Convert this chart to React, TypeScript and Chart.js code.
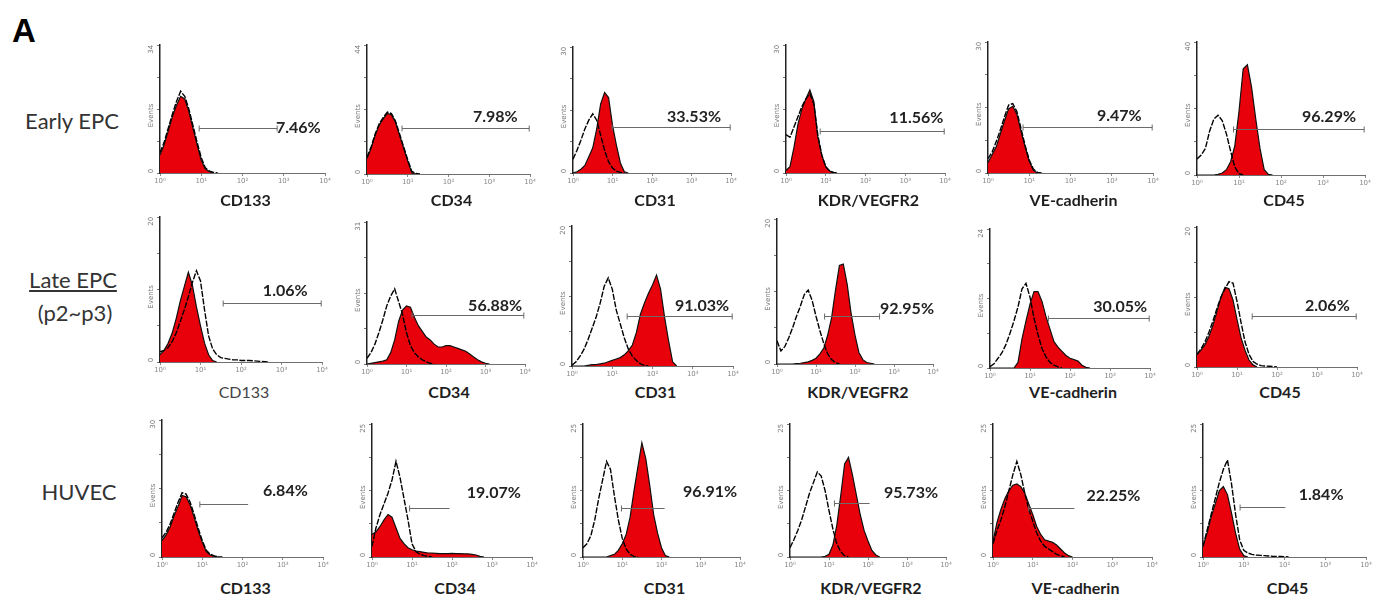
import React, { useEffect, useRef } from "react";
import { Chart, registerables } from "chart.js";

Chart.register(...registerables);

// ---------- DATA ----------
// fluorescence bins (log10 of intensity), 10^0 .. 10^3.2
const BIN_LOG = [0, 0.1, 0.2, 0.3, 0.4, 0.5, 0.6, 0.7, 0.8, 0.9, 1.0, 1.1, 1.2, 1.3, 1.4, 1.5, 1.6, 1.7, 1.8, 1.9, 2.0, 2.1, 2.2, 2.3, 2.4, 2.5, 2.6, 2.7, 2.8, 2.9, 3.0, 3.1, 3.2];

const ROWS = ["Early EPC", "Late EPC", "HUVEC"];
const MARKERS = ["CD133", "CD34", "CD31", "KDR/VEGFR2", "VE-cadherin", "CD45"];
const X_TICK_LABELS = ["10⁰", "10¹", "10²", "10³", "10⁴"];

// top of each "Events" axis
const Y_TOP = [
  [34, 44, 30, 30, 30, 40],
  [20, 31, 20, 20, 24, 20],
  [30, 25, 25, 25, 25, 25],
];

const PERCENT = [
  ["7.46%", "7.98%", "33.53%", "11.56%", "9.47%", "96.29%"],
  ["1.06%", "56.88%", "91.03%", "92.95%", "30.05%", "2.06%"],
  ["6.84%", "19.07%", "96.91%", "95.73%", "22.25%", "1.84%"],
];

// gate marker (log10 from/to, level as % of axis top)
const GATE_FROM = [
  [0.95, 0.86, 0.99, 0.86, 0.85, 0.87],
  [1.56, 1.14, 1.37, 1.22, 1.46, 1.38],
  [0.94, 0.94, 0.98, 1.14, 0.9, 0.91],
];
const GATE_TO = [
  [2.84, 3.98, 3.98, 3.98, 3.98, 3.98],
  [3.98, 3.97, 3.98, 2.63, 3.98, 3.98],
  [2.14, 1.94, 2.08, 2.04, 2.05, 2.02],
];
const GATE_LEVEL = [
  [35, 36, 36.5, 33, 35.5, 35],
  [41, 34.5, 36, 33, 36, 36.5],
  [38.5, 37, 37, 40.5, 37, 38],
];

// histogram heights (% of axis top) per bin — red = stained, outline = control
const early_CD133_stain = [14, 22, 33, 44, 53, 60, 58, 48, 35, 22, 10, 3, 1, 0];
const early_CD133_ctrl = [16, 24, 35, 46, 56, 64, 60, 50, 37, 24, 12, 4, 1.5, 0.5, 0];
const early_CD34_stain = [12, 20, 30, 38, 43, 47, 46, 40, 30, 20, 10, 1, 0];
const early_CD34_ctrl = [13, 21, 31, 39, 44, 48, 47, 41, 31, 21, 11, 2, 0.5, 0];
const early_CD31_stain = [0, 1, 3, 6, 13, 20, 35, 55, 64, 60, 38, 22, 8, 1, 0];
const early_CD31_ctrl = [11, 18, 26, 35, 42, 47, 42, 30, 18, 9, 4, 1.5, 0.5, 0];
const early_KDR_stain = [2, 5, 20, 38, 50, 58, 65, 56, 28, 14, 5, 1.5, 0];
const early_KDR_ctrl = [30, 28, 36, 44, 52, 58, 62, 54, 30, 14, 5, 1.5, 0.5, 0];
const early_VE_stain = [8, 14, 20, 30, 40, 49, 51, 45, 32, 20, 9, 2, 0];
const early_VE_ctrl = [11, 16, 24, 33, 43, 52, 53, 47, 34, 21, 10, 3, 0.5, 0];
const early_CD45_stain = [0, 0, 0, 0, 0, 0.5, 1.5, 4, 10, 22, 48, 80, 83, 66, 42, 20, 4, 0.5, 0];
const early_CD45_ctrl = [12, 15, 20, 33, 42, 45, 41, 31, 18, 6, 1, 0];

const late_CD133_stain = [5, 8, 13, 20, 30, 42, 52, 62, 53, 38, 25, 13, 5, 1, 0];
const late_CD133_ctrl = [7, 8, 10, 14, 20, 28, 36, 45, 55, 63, 56, 36, 18, 9, 5, 3, 2.5, 2, 1.5, 1.5, 1, 1, 1, 0.8, 0.6, 0.4, 0.2, 0];
const late_CD34_stain = [0, 0.5, 1, 1.5, 2, 3, 8, 17, 30, 38, 41, 40, 33, 27, 23, 19, 17, 14, 12, 12, 13, 13, 12, 11, 10, 9, 7, 5, 3, 1.5, 0.5, 0];
const late_CD34_ctrl = [4, 8, 14, 22, 31, 41, 48, 53, 44, 35, 22, 13, 8, 5, 3, 1.5, 0.5, 0];
const late_CD31_stain = [0, 0, 0, 0, 0.5, 1, 1, 1.5, 2, 3, 4, 5, 6, 8, 11, 15, 24, 37, 45, 52, 58, 65, 55, 35, 18, 3, 0];
const late_CD31_ctrl = [0.5, 3, 7, 12, 19, 27, 35, 45, 57, 63, 55, 40, 30, 20, 12, 7, 4, 1.5, 0.5, 0];
const late_KDR_stain = [0, 0, 0, 0, 0, 0.3, 0.5, 1, 1.5, 2.5, 4, 7, 11, 20, 32, 51, 68, 69, 55, 35, 20, 8, 3, 1, 0.5, 0];
const late_KDR_ctrl = [16, 9, 12, 18, 25, 33, 40, 48, 51, 44, 33, 23, 14, 7, 3, 1, 0];
const late_VE_stain = [0, 0, 0, 0, 0, 0, 0, 4, 21, 34, 46, 55, 55, 48, 37, 28, 19, 15, 12, 9, 7, 6, 5, 2, 0.5, 0];
const late_VE_ctrl = [1, 3, 7, 11, 17, 25, 34, 44, 57, 61, 51, 36, 24, 14, 8, 4, 2, 0.8, 0];
const late_CD45_stain = [9, 12, 16, 22, 30, 40, 50, 57, 56, 48, 34, 21, 12, 5, 1.5, 0];
const late_CD45_ctrl = [9, 13, 18, 25, 33, 42, 50, 56, 61, 60, 47, 32, 18, 9, 4, 2, 1, 0.7, 0.5, 0.3, 0];

const huvec_CD133_stain = [12, 16, 22, 30, 37, 45, 44, 38, 29, 19, 11, 4, 1.5, 0.5, 0];
const huvec_CD133_ctrl = [14, 18, 24, 32, 40, 47, 46, 40, 31, 21, 12, 5, 2, 0.8, 0.3, 0];
const huvec_CD34_stain = [17, 19, 23, 28, 32, 30, 22, 14, 10, 7, 5.5, 4.5, 4, 3.5, 3, 3, 2.8, 2.6, 2.5, 2.5, 2.7, 2.6, 2.5, 2.4, 2.3, 2, 1.5, 0.5, 0];
const huvec_CD34_ctrl = [8, 22, 32, 40, 48, 58, 72, 60, 44, 28, 10, 4, 2, 1, 0.5, 0];
const huvec_CD31_stain = [0, 0, 0, 0, 0, 0, 0, 1, 2, 5, 10, 17, 30, 50, 68, 86, 74, 54, 32, 18, 7, 1, 0];
const huvec_CD31_ctrl = [7, 10, 16, 28, 44, 58, 72, 66, 46, 28, 14, 6, 2, 0.5, 0];
const huvec_KDR_stain = [0, 0, 0, 0, 0, 0, 0, 0, 0, 0.5, 2, 9, 24, 46, 70, 75, 62, 47, 32, 20, 12, 5, 1.5, 0];
const huvec_KDR_ctrl = [7, 13, 20, 28, 38, 48, 56, 64, 61, 50, 35, 21, 10, 4, 1, 0];
const huvec_VE_stain = [12, 26, 36, 44, 50, 54, 55, 53, 48, 40, 32, 23, 17, 13, 12, 11, 9, 6, 3, 1, 0];
const huvec_VE_ctrl = [10, 20, 28, 38, 50, 62, 72, 62, 48, 36, 27, 18, 12, 8, 6, 4, 2, 1, 0];
const huvec_CD45_stain = [8, 18, 30, 40, 50, 53, 47, 33, 18, 6, 1, 0];
const huvec_CD45_ctrl = [8, 20, 32, 44, 56, 66, 73, 55, 32, 13, 5, 3, 2, 1.5, 1.2, 1, 0.8, 0.6, 0.5, 0.4, 0.2, 0];

const STAIN = [
  [early_CD133_stain, early_CD34_stain, early_CD31_stain, early_KDR_stain, early_VE_stain, early_CD45_stain],
  [late_CD133_stain, late_CD34_stain, late_CD31_stain, late_KDR_stain, late_VE_stain, late_CD45_stain],
  [huvec_CD133_stain, huvec_CD34_stain, huvec_CD31_stain, huvec_KDR_stain, huvec_VE_stain, huvec_CD45_stain],
];
const CTRL = [
  [early_CD133_ctrl, early_CD34_ctrl, early_CD31_ctrl, early_KDR_ctrl, early_VE_ctrl, early_CD45_ctrl],
  [late_CD133_ctrl, late_CD34_ctrl, late_CD31_ctrl, late_KDR_ctrl, late_VE_ctrl, late_CD45_ctrl],
  [huvec_CD133_ctrl, huvec_CD34_ctrl, huvec_CD31_ctrl, huvec_KDR_ctrl, huvec_VE_ctrl, huvec_CD45_ctrl],
];

// ---------- LAYOUT (page pixels) ----------
// plot box of each panel: [left, right, top, bottom]
const AXIS_BOX = [
  [[160, 325, 43, 173], [367, 530, 43, 174], [573, 731, 45, 173], [786, 945, 43, 173], [988, 1153, 40, 173], [1197, 1365, 40, 175]],
  [[160, 322, 215, 362], [367, 525, 220, 364], [572, 733, 224, 366], [777, 933, 217, 364], [990, 1150, 227, 368], [1197, 1357, 225, 367]],
  [[162, 323, 418, 557], [372, 532, 422, 557], [583, 740, 422, 557], [790, 946, 422, 557], [993, 1152, 422, 557], [1203, 1366, 422, 557]],
];
// percent label anchor in data units [log10, % of axis]
const LABEL_AT = [
  [[2.81, 35], [2.6, 44], [2.38, 45], [2.6, 43], [2.64, 44], [2.5, 44]],
  [[2.54, 49], [2.56, 41], [2.56, 43], [2.64, 38], [2.58, 44], [2.7, 43.5]],
  [[2.51, 48], [2.37, 48], [2.55, 49], [2.41, 48], [2.35, 46], [2.35, 47]],
];
const NAME_Y = [200, 392, 588];

const PAD_L = 20, PAD_T = 8, PAD_R = 16, PAD_B = 14;

const gatePlugin = {
  id: "gate",
  afterDatasetsDraw(chart: any, _a: any, o: any) {
    const { ctx } = chart;
    const x = chart.scales.x, y = chart.scales.y;
    const x1 = x.getPixelForValue(o.from);
    const x2 = x.getPixelForValue(o.to);
    const yy = Math.round(y.getPixelForValue(o.level)) + 0.5;
    ctx.save();
    ctx.strokeStyle = "#6a6a6a";
    ctx.lineWidth = 1;
    ctx.beginPath();
    ctx.moveTo(x1, yy);
    ctx.lineTo(x2, yy);
    ctx.moveTo(x1, yy - 3);
    ctx.lineTo(x1, yy + 3);
    if (o.rightCap) {
      ctx.moveTo(x2, yy - 3);
      ctx.lineTo(x2, yy + 3);
    }
    ctx.stroke();
    ctx.font = "bold 16px Lato";
    ctx.fillStyle = "#222";
    ctx.textBaseline = "middle";
    ctx.textAlign = "left";
    ctx.fillText(o.text, x.getPixelForValue(o.lx), y.getPixelForValue(o.ly));
    ctx.restore();
  },
};

const yLabelPlugin = {
  id: "ylabels",
  afterDraw(chart: any, _a: any, o: any) {
    const { ctx, chartArea } = chart;
    const xx = chartArea.left - 9;
    const h = chartArea.bottom - chartArea.top;
    ctx.save();
    ctx.font = "7px 'DejaVu Sans'";
    ctx.fillStyle = "#777";
    ctx.textBaseline = "middle";
    ctx.textAlign = "center";
    const put = (t: string, yy: number) => {
      ctx.save();
      ctx.translate(xx, yy);
      ctx.rotate(-Math.PI / 2);
      ctx.fillText(t, 0, 0);
      ctx.restore();
    };
    put(String(o.top), chartArea.top + 4);
    put("0", chartArea.bottom - 2);
    put("Events", chartArea.top + h * 0.55);
    ctx.restore();
  },
};

const pts = (vals: number[]) => vals.map((v, i) => ({ x: BIN_LOG[i], y: v }));

function Panel({ r, c }: { r: number; c: number }) {
  const ref = useRef<HTMLCanvasElement | null>(null);
  const [L, R, T, B] = AXIS_BOX[r][c];
  const w = R - L + PAD_L + PAD_R;
  const h = B - T + PAD_T + PAD_B;
  useEffect(() => {
    if (!ref.current) return;
    const chart = new Chart(ref.current, {
      type: "line",
      data: {
        datasets: [
          {
            label: "stained",
            data: pts(STAIN[r][c]),
            borderColor: "#111",
            borderWidth: 1.2,
            backgroundColor: "#e8000a",
            fill: "origin",
            pointRadius: 0,
            tension: 0,
            order: 2,
          },
          {
            label: "control",
            data: pts(CTRL[r][c]),
            borderColor: "#000",
            borderWidth: 1.4,
            borderDash: [6, 1.5],
            fill: false,
            pointRadius: 0,
            tension: 0,
            order: 1,
          },
        ],
      },
      options: {
        animation: false,
        responsive: false,
        maintainAspectRatio: false,
        events: [],
        layout: { padding: { left: 0, top: PAD_T, right: PAD_R, bottom: 0 } },
        plugins: {
          legend: { display: false },
          tooltip: { enabled: false },
          gate: {
            from: GATE_FROM[r][c],
            to: GATE_TO[r][c],
            level: GATE_LEVEL[r][c],
            rightCap: r < 2,
            text: PERCENT[r][c],
            lx: LABEL_AT[r][c][0],
            ly: LABEL_AT[r][c][1],
          },
          ylabels: { top: Y_TOP[r][c] },
        } as any,
        scales: {
          x: {
            type: "linear",
            min: 0,
            max: 4,
            afterFit(s: any) {
              s.height = PAD_B;
            },
            ticks: {
              stepSize: 1,
              autoSkip: false,
              maxRotation: 0,
              padding: 1,
              color: "#888",
              font: { size: 7, family: "DejaVu Sans" },
              callback: (v: any) => X_TICK_LABELS[Math.round(v)] ?? "",
            },
            grid: { drawOnChartArea: false, tickLength: 3, color: "#888" },
            border: { color: "#6f6f6f", width: 1 },
          },
          y: {
            min: 0,
            max: 100,
            afterFit(s: any) {
              s.width = PAD_L;
            },
            ticks: { stepSize: 25, callback: () => "" },
            grid: { drawOnChartArea: false, tickLength: 3, color: "#777" },
            border: { color: "#222", width: 1.5 },
          },
        },
      } as any,
      plugins: [gatePlugin, yLabelPlugin],
    });
    return () => chart.destroy();
  }, [r, c]);
  return (
    <canvas
      ref={ref}
      width={w}
      height={h}
      style={{ position: "absolute", left: L - PAD_L, top: T - PAD_T, width: w, height: h }}
    />
  );
}

const txt = (x: number, y: number, s: string, style: any, key: string) => (
  <div
    key={key}
    style={{
      position: "absolute",
      left: x,
      top: y,
      transform: "translate(-50%, -50%)",
      whiteSpace: "nowrap",
      lineHeight: 1,
      ...style,
    }}
  >
    {s}
  </div>
);

export default function App() {
  const panels: any[] = [];
  const names: any[] = [];
  for (let r = 0; r < 3; r++) {
    for (let c = 0; c < 6; c++) {
      panels.push(<Panel key={`p${r}${c}`} r={r} c={c} />);
      const [L, R] = AXIS_BOX[r][c];
      const plain = r === 1 && c === 0;
      names.push(
        txt((L + R) / 2 + 3, NAME_Y[r], MARKERS[c], {
          fontFamily: "Lato",
          fontWeight: plain ? 400 : 700,
          fontSize: 16,
          color: plain ? "#444" : "#1e1e1e",
        }, `n${r}${c}`)
      );
    }
  }
  const rowStyle = { fontFamily: "Lato", fontSize: 22, color: "#333" };
  return (
    <div style={{ position: "absolute", left: 0, top: 0, width: 1382, height: 601, background: "#fff", overflow: "hidden" }}>
      {panels}
      {names}
      {txt(24, 30, "A", { fontFamily: "Liberation Sans", fontWeight: 700, fontSize: 33, color: "#000" }, "A")}
      {txt(72, 121, ROWS[0], rowStyle, "r0")}
      {txt(73, 280, ROWS[1], { ...rowStyle, textDecoration: "underline" }, "r1")}
      {txt(75, 313, "(p2~p3)", rowStyle, "r1b")}
      {txt(79, 492, ROWS[2], rowStyle, "r2")}
    </div>
  );
}
